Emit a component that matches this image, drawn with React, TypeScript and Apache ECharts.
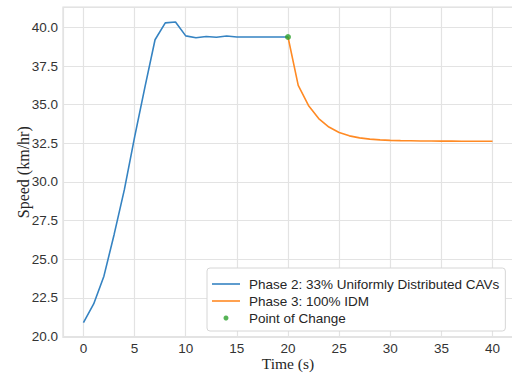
import React, { useEffect, useRef } from "react";
import * as echarts from "echarts";

const phase2Time = [0, 1, 2, 3, 4, 5, 6, 7, 8, 9, 10, 11, 12, 13, 14, 15, 16, 17, 18, 19, 20];
const phase2Speed = [20.9, 22.1, 23.9, 26.6, 29.5, 32.9, 36.1, 39.2, 40.29, 40.35, 39.45, 39.33, 39.41, 39.36, 39.44, 39.38, 39.38, 39.38, 39.38, 39.38, 39.38];
const phase3Time = [20, 21, 22, 23, 24, 25, 26, 27, 28, 29, 30, 31, 32, 33, 34, 35, 36, 37, 38, 39, 40];
const phase3Speed = [39.38, 36.25, 34.95, 34.1, 33.55, 33.2, 32.98, 32.85, 32.77, 32.72, 32.69, 32.67, 32.66, 32.65, 32.645, 32.64, 32.64, 32.635, 32.635, 32.63, 32.63];
const changePoint = [20, 39.38];

const seriesNames = ["Phase 2: 33% Uniformly Distributed CAVs", "Phase 3: 100% IDM", "Point of Change"];

const TICK_FONT = "'Liberation Sans', Arial, sans-serif";
const SERIF = "'Liberation Serif', 'Times New Roman', serif";
const LINE_ICON = "path://M0,0 M0,1.7 L28,1.7 L28,3.3 L0,3.3 Z M28,5";

function isMultiple(v: number, step: number) {
  return Math.abs(v / step - Math.round(v / step)) < 1e-6;
}

export default function App() {
  const ref = useRef<HTMLDivElement>(null);
  useEffect(() => {
    if (!ref.current) return;
    const chart = echarts.init(ref.current, undefined, { renderer: "svg" });
    chart.setOption({
      animation: false,
      backgroundColor: "#ffffff",
      grid: {
        left: 63,
        top: 7,
        width: 450,
        height: 330.5,
        show: true,
        borderColor: "#dedede",
        borderWidth: 1.2,
        containLabel: false,
        outerBoundsMode: "none",
      },
      xAxis: {
        type: "value",
        min: -2,
        max: 42,
        minInterval: 5,
        maxInterval: 5,
        name: "Time (s)",
        nameLocation: "middle",
        nameGap: 18,
        nameMoveOverlap: false,
        nameTextStyle: { fontFamily: SERIF, fontSize: 15.5, color: "#262626" },
        axisLine: { show: false },
        axisTick: { show: false },
        axisLabel: {
          showMinLabel: false,
          showMaxLabel: false,
          margin: 4,
          fontFamily: TICK_FONT,
          fontSize: 13.5,
          color: "#333333",
          formatter: (v: number) => (isMultiple(v, 5) ? String(v) : ""),
        },
        splitLine: { show: true, lineStyle: { color: "#e3e3e3", width: 1.2 } },
      },
      yAxis: {
        type: "value",
        min: 19.93,
        max: 41.32,
        minInterval: 2.5,
        maxInterval: 2.5,
        name: "Speed (km/hr)",
        nameLocation: "middle",
        nameGap: 32,
        nameMoveOverlap: false,
        nameTextStyle: { fontFamily: SERIF, fontSize: 16, color: "#262626" },
        axisLine: { show: false },
        axisTick: { show: false },
        axisLabel: {
          showMinLabel: false,
          showMaxLabel: false,
          margin: 5,
          fontFamily: TICK_FONT,
          fontSize: 13.5,
          color: "#333333",
          formatter: (v: number) => (isMultiple(v, 2.5) ? v.toFixed(1) : ""),
        },
        splitLine: { show: true, lineStyle: { color: "#e3e3e3", width: 1.2 } },
      },
      legend: {
        orient: "vertical",
        left: 207,
        top: 268,
        padding: [9, 6, 6, 5],
        itemWidth: 28,
        itemHeight: 5,
        itemGap: 3,
        backgroundColor: "#ffffff",
        borderColor: "#d6d6d6",
        borderWidth: 1,
        borderRadius: 3,
        textStyle: {
          fontFamily: TICK_FONT,
          fontSize: 13.5,
          color: "#262626",
          padding: [0, 0, 0, 4],
        },
        data: [
          { name: seriesNames[0], icon: LINE_ICON },
          { name: seriesNames[1], icon: LINE_ICON },
          { name: seriesNames[2], icon: "circle" },
        ],
      },
      series: [
        {
          name: seriesNames[0],
          type: "line",
          data: phase2Time.map((t, i) => [t, phase2Speed[i]]),
          symbol: "none",
          lineStyle: { color: "#3583c2", width: 1.6 },
          itemStyle: { color: "#3583c2" },
          z: 2,
        },
        {
          name: seriesNames[1],
          type: "line",
          data: phase3Time.map((t, i) => [t, phase3Speed[i]]),
          symbol: "none",
          lineStyle: { color: "#ff8a24", width: 1.6 },
          itemStyle: { color: "#ff8a24" },
          z: 2,
        },
        {
          name: seriesNames[2],
          type: "scatter",
          data: [changePoint],
          symbol: "circle",
          symbolSize: 6,
          itemStyle: { color: "#2ca02c" },
          z: 3,
        },
      ],
    });
    return () => chart.dispose();
  }, []);
  return (
    <div
      ref={ref}
      style={{ position: "fixed", left: 0, top: 0, width: 512, height: 375 }}
    />
  );
}
